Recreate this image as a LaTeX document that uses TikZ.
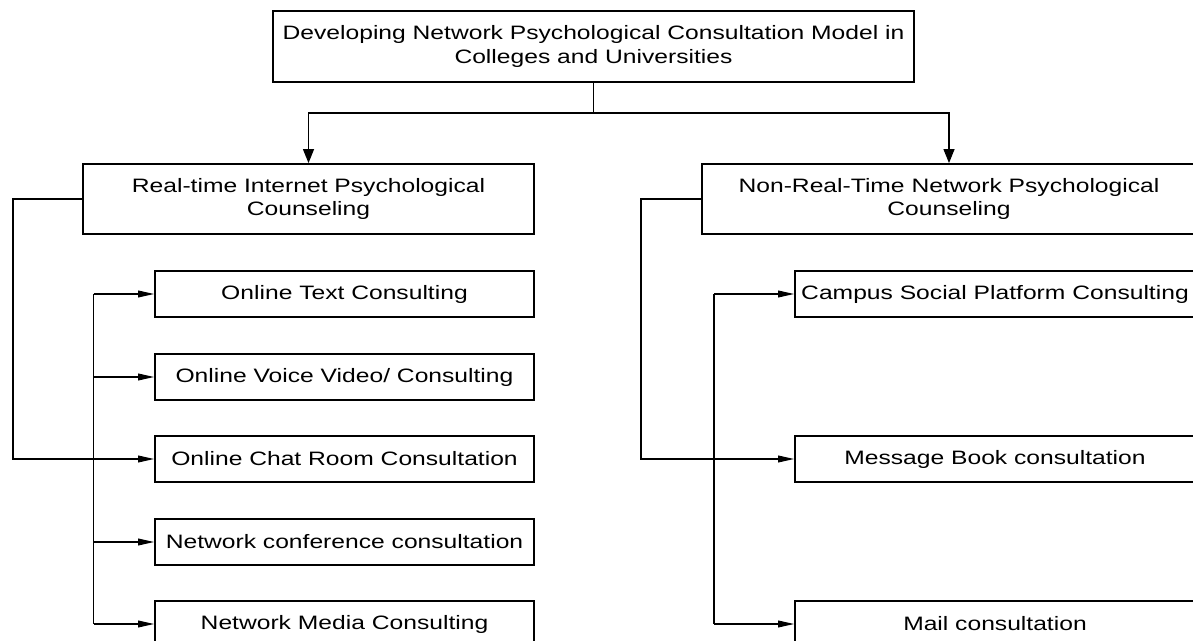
\documentclass[tikz,border=0pt]{standalone}
\usepackage{fontspec}
\setmainfont{Liberation Sans}[FakeStretch=1.27]
\usetikzlibrary{arrows.meta}

\begin{document}
\begin{tikzpicture}[
  x=0.5pt, y=-0.5pt,
  box/.style={draw, line width=0.9pt, align=center, inner sep=2pt, font=\fontsize{9.7}{11.75}\selectfont},
  leaf/.style={box, minimum height=23pt},
  link/.style={line width=0.6pt, -{Triangle[length=8pt, width=3.4pt]}},
  drop/.style={line width=0.6pt, -{Triangle[length=7pt, width=5.5pt]}}
]
\useasboundingbox (0,0) rectangle (1193,641);
\clip (0,0) rectangle (1193,641);

% root and the two kinds of counseling
\node[box, minimum width=320.5pt, minimum height=35.5pt] (root) at (593.5,46.5)
  {Developing Network Psychological Consultation Model in\\Colleges and Universities};
\node[box, minimum width=225.5pt, minimum height=35pt] (realtime) at (308.5,199)
  {Real-time Internet Psychological\\Counseling};
\node[box, minimum width=247pt, minimum height=35pt] (nonrealtime) at (949,199)
  {Non-Real-Time Network Psychological\\Counseling};

% leaves
\foreach \y/\name/\txt in {294/ltext/{Online Text Consulting},
    377/lvoice/{Online Voice Video/ Consulting},
    459/lchat/{Online Chat Room Consultation},
    542/lconf/{Network conference consultation},
    624/lmedia/{Network Media Consulting}}
  \node[leaf, minimum width=189.5pt] (\name) at (344.5,\y) {\txt};
\foreach \y/\name/\txt in {294/rcampus/{Campus Social Platform Consulting},
    459/rbook/{Message Book consultation},
    624/rmail/{Mail consultation}}
  \node[leaf, minimum width=200pt] (\name) at (995,\y) {\txt};

% connectors
\coordinate (split) at (593.5,113);
\draw[drop] (root) -- (split) -| (realtime);
\draw[drop] (split) -| (nonrealtime);

\coordinate (rtbend) at (13,199);
\coordinate (lbus) at (93.5,294);
\draw[link] (realtime.west) -- (rtbend) |- (lchat.west);
\draw[line width=0.6pt] (lbus) -- (lbus |- lmedia.west);
\foreach \n in {ltext,lvoice,lconf,lmedia}
  \draw[link] (lbus |- \n.west) -- (\n.west);

\coordinate (nrtbend) at (641,199);
\coordinate (rbus) at (714,294);
\draw[link] (nonrealtime.west) -- (nrtbend) |- (rbook.west);
\draw[line width=0.6pt] (rbus) -- (rbus |- rmail.west);
\foreach \n in {rcampus,rmail}
  \draw[link] (rbus |- \n.west) -- (\n.west);
\end{tikzpicture}
\end{document}
